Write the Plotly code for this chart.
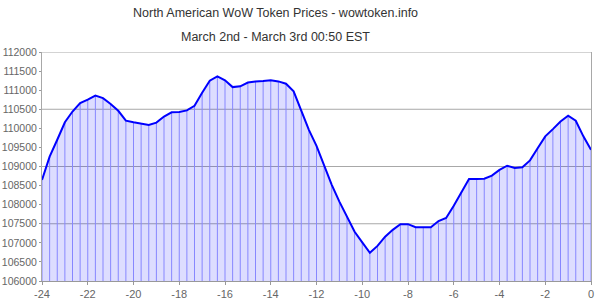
import plotly.graph_objects as go

# Hours relative to now, every 20 minutes from -24 to 0
hours = [-24 + i / 3 for i in range(73)]
prices = [
    108650, 109260, 109700, 110160, 110440, 110660, 110750, 110860, 110790, 110640,
    110460, 110200, 110160, 110120, 110090, 110150, 110310, 110420, 110430, 110470,
    110590, 110930, 111250, 111360, 111260, 111080, 111100, 111200, 111230, 111240,
    111260, 111230, 111170, 110970, 110490, 109960, 109540, 109020, 108520, 108080,
    107690, 107290, 107010, 106740, 106920, 107160, 107340, 107490, 107490, 107410,
    107410, 107410, 107570, 107650, 107970, 108340, 108670, 108670, 108680, 108760,
    108910, 109020, 108960, 108980, 109160, 109480, 109790, 109980, 110180, 110330,
    110200, 109790, 109440,
]
x_tick_vals = [-24, -22, -20, -18, -16, -14, -12, -10, -8, -6, -4, -2, 0]
x_tick_text = ["-24", "-22", "-20", "-18", "-16", "-14", "-12", "-10", "-8", "-6", "-4", "-2", "0"]
y_tick_vals = list(range(106000, 112001, 500))
y_tick_text = [str(v) for v in y_tick_vals]
grid_vals = [107500, 109000, 110500, 112000]
y_min, y_max = 106000, 112000

title1 = "North American WoW Token Prices - wowtoken.info"
title2 = "March 2nd - March 3rd 00:50 EST"

FONT = "Liberation Sans, Arial, sans-serif"

# drop lines from the baseline to each point
drop_x, drop_y = [], []
for h, p in zip(hours, prices):
    drop_x += [h, h, None]
    drop_y += [y_min, p, None]

fig = go.Figure()
fig.add_trace(go.Scatter(
    x=hours, y=prices, mode="lines", fill="tozeroy",
    fillcolor="rgba(0,0,255,0.135)", line=dict(color="rgba(0,0,0,0)", width=0),
    hoverinfo="skip", showlegend=False,
))
fig.add_trace(go.Scatter(
    x=drop_x, y=drop_y, mode="lines",
    line=dict(color="rgb(135,135,255)", width=1),
    hoverinfo="skip", showlegend=False,
))
fig.add_trace(go.Scatter(
    x=hours, y=prices, mode="lines",
    line=dict(color="rgb(0,0,255)", width=2),
    showlegend=False,
))

for g in grid_vals:
    fig.add_shape(type="line", xref="paper", x0=0, x1=1, yref="y", y0=g, y1=g,
                  line=dict(color="#a8a8a8", width=1), layer="below")

fig.update_layout(
    width=600, height=300,
    margin=dict(l=42, r=9, t=52, b=19, autoexpand=False),
    paper_bgcolor="white", plot_bgcolor="white",
    font=dict(family=FONT, size=11, color="#666"),
    annotations=[
        dict(text=title1, xref="paper", yref="paper", x=0.426, y=1.171,
             xanchor="center", yanchor="middle", showarrow=False,
             font=dict(family=FONT, size=12.5, color="#333")),
        dict(text=title2, xref="paper", yref="paper", x=0.426, y=1.067,
             xanchor="center", yanchor="middle", showarrow=False,
             font=dict(family=FONT, size=12.5, color="#333")),
    ],
)
fig.update_xaxes(
    range=[-24, 0], tickvals=x_tick_vals, ticktext=x_tick_text, automargin=False,
    showgrid=False, zeroline=False, showline=True, linecolor="#999", linewidth=1,
    ticks="outside", ticklen=3, tickcolor="#999",
)
fig.update_yaxes(
    range=[y_min, y_max], tickvals=y_tick_vals, ticktext=y_tick_text, automargin=False,
    showgrid=False, zeroline=False, showline=True, linecolor="#a8a8a8", linewidth=1,
    mirror=True, ticks="outside", ticklen=2, tickcolor="#999",
    tickfont=dict(size=10.5),
)

fig.write_html("out.html")
